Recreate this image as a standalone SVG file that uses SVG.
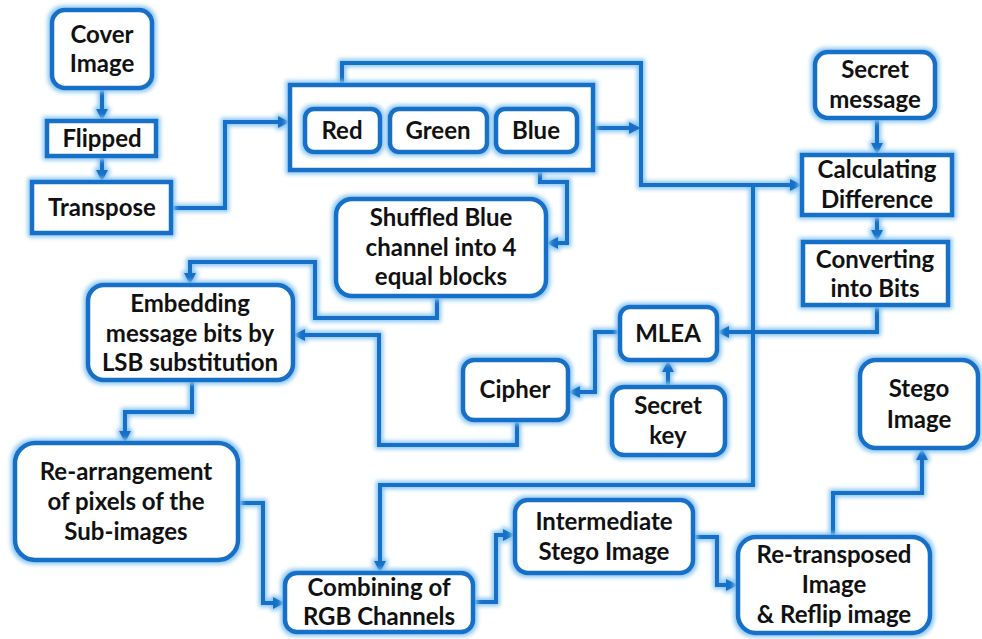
<svg xmlns="http://www.w3.org/2000/svg" width="982" height="639" viewBox="0 0 982 639">
<style>
.n{fill:#fff;stroke:#1670c7;stroke-width:4.5;filter:url(#glow)}
.c path{fill:none;stroke:#1670c7;stroke-width:4;marker-end:url(#ah)}
.c{filter:url(#glow)}
text{font-family:Lato,"Liberation Sans",sans-serif;font-weight:bold;font-size:24px;fill:#111;text-anchor:middle}
</style>
<defs>
<filter id="glow" filterUnits="userSpaceOnUse" x="0" y="0" width="982" height="639">
<feMorphology in="SourceAlpha" operator="dilate" radius="1.5" result="d"/>
<feGaussianBlur in="d" stdDeviation="2" result="b"/>
<feFlood flood-color="#86c4f2"/>
<feComposite in2="b" operator="in" result="g"/>
<feMerge><feMergeNode in="g"/><feMergeNode in="SourceGraphic"/></feMerge>
</filter>
<marker id="ah" markerUnits="userSpaceOnUse" markerWidth="14" markerHeight="14" refX="4" refY="6" orient="auto">
<path d="M0,0 L12,6 L0,12 z" fill="#1670c7"/>
</marker>
</defs>
<rect width="982" height="639" fill="#fff"/>
<g class="c" id="connectors">
<path d="M102,88 V113"/>
<path d="M102,156 V174"/>
<path d="M171,208 H225 V122 H282"/>
<path d="M342,109 V63 H641 V185 H794"/>
<path d="M593,128 H633"/>
<path d="M753,185 V485 H380 V565"/>
<path d="M540,170 V182 H567 V243 H554"/>
<path d="M437,296 V318 H315 V262 H190 V277"/>
<path d="M877,118 V147"/>
<path d="M877,215 V234"/>
<path d="M877,305 V332 H725"/>
<path d="M668,387 V368"/>
<path d="M620,332 H595 V392 H576"/>
<path d="M517,420 V445 H379 V335 H301"/>
<path d="M192,380 V412 H125 V435"/>
<path d="M238,503 H263 V603 H277"/>
<path d="M473,602 H496 V535 H507"/>
<path d="M693,537 H717 V585 H730"/>
<path d="M833,537 V493 H922 V456"/>
</g>
<g id="cover"><rect class="n" x="52" y="10" width="100" height="78" rx="13"/><text x="102" y="43">Cover</text><text x="102" y="72">Image</text></g>
<g id="flipped"><rect class="n" x="47" y="121" width="109" height="35"/><text x="102" y="147">Flipped</text></g>
<g id="transpose"><rect class="n" x="32" y="182" width="139" height="51"/><text x="102" y="216">Transpose</text></g>
<g id="rgb"><rect class="n" x="290" y="85" width="303" height="85"/></g>
<g id="red"><rect class="n" x="305" y="109" width="75" height="43" rx="9"/><text x="342" y="139">Red</text></g>
<g id="green"><rect class="n" x="390" y="109" width="97" height="43" rx="9"/><text x="438" y="139">Green</text></g>
<g id="blue"><rect class="n" x="496" y="109" width="81" height="43" rx="9"/><text x="536" y="139">Blue</text></g>
<g id="shuffled"><rect class="n" x="336" y="199" width="210" height="97" rx="16"/><text x="441" y="226">Shuffled Blue</text><text x="441" y="256">channel into 4</text><text x="441" y="285">equal blocks</text></g>
<g id="embedding"><rect class="n" x="88" y="285" width="205" height="95" rx="16"/><text x="190" y="312">Embedding</text><text x="190" y="342">message bits by</text><text x="190" y="371">LSB substitution</text></g>
<g id="secretmsg"><rect class="n" x="815" y="52" width="120" height="66" rx="13"/><text x="875" y="78">Secret</text><text x="875" y="108">message</text></g>
<g id="calc"><rect class="n" x="802" y="155" width="150" height="60"/><text x="877" y="178">Calculating</text><text x="877" y="208">Difference</text></g>
<g id="convert"><rect class="n" x="803" y="242" width="145" height="63"/><text x="875" y="268">Converting</text><text x="875" y="297">into Bits</text></g>
<g id="mlea"><rect class="n" x="620" y="307" width="97" height="53" rx="10"/><text x="668" y="342">MLEA</text></g>
<g id="cipher"><rect class="n" x="463" y="360" width="105" height="60" rx="11"/><text x="515" y="398">Cipher</text></g>
<g id="secretkey"><rect class="n" x="612" y="387" width="113" height="68" rx="12"/><text x="668" y="414">Secret</text><text x="668" y="444">key</text></g>
<g id="stego"><rect class="n" x="860" y="360" width="118" height="88" rx="16"/><text x="919" y="397">Stego</text><text x="919" y="428">Image</text></g>
<g id="rearr"><rect class="n" x="15" y="443" width="223" height="117" rx="20"/><text x="126" y="480">Re-arrangement</text><text x="126" y="510">of pixels of the</text><text x="126" y="540">Sub-images</text></g>
<g id="combining"><rect class="n" x="285" y="573" width="188" height="59" rx="12"/><text x="379" y="596">Combining of</text><text x="379" y="625">RGB Channels</text></g>
<g id="intermediate"><rect class="n" x="515" y="500" width="178" height="73" rx="13"/><text x="604" y="530">Intermediate</text><text x="604" y="560">Stego Image</text></g>
<g id="retrans"><rect class="n" x="738" y="537" width="192" height="96" rx="18"/><text x="834" y="563">Re-transposed</text><text x="834" y="593">Image</text><text x="834" y="623">&amp; Reflip image</text></g>
</svg>
